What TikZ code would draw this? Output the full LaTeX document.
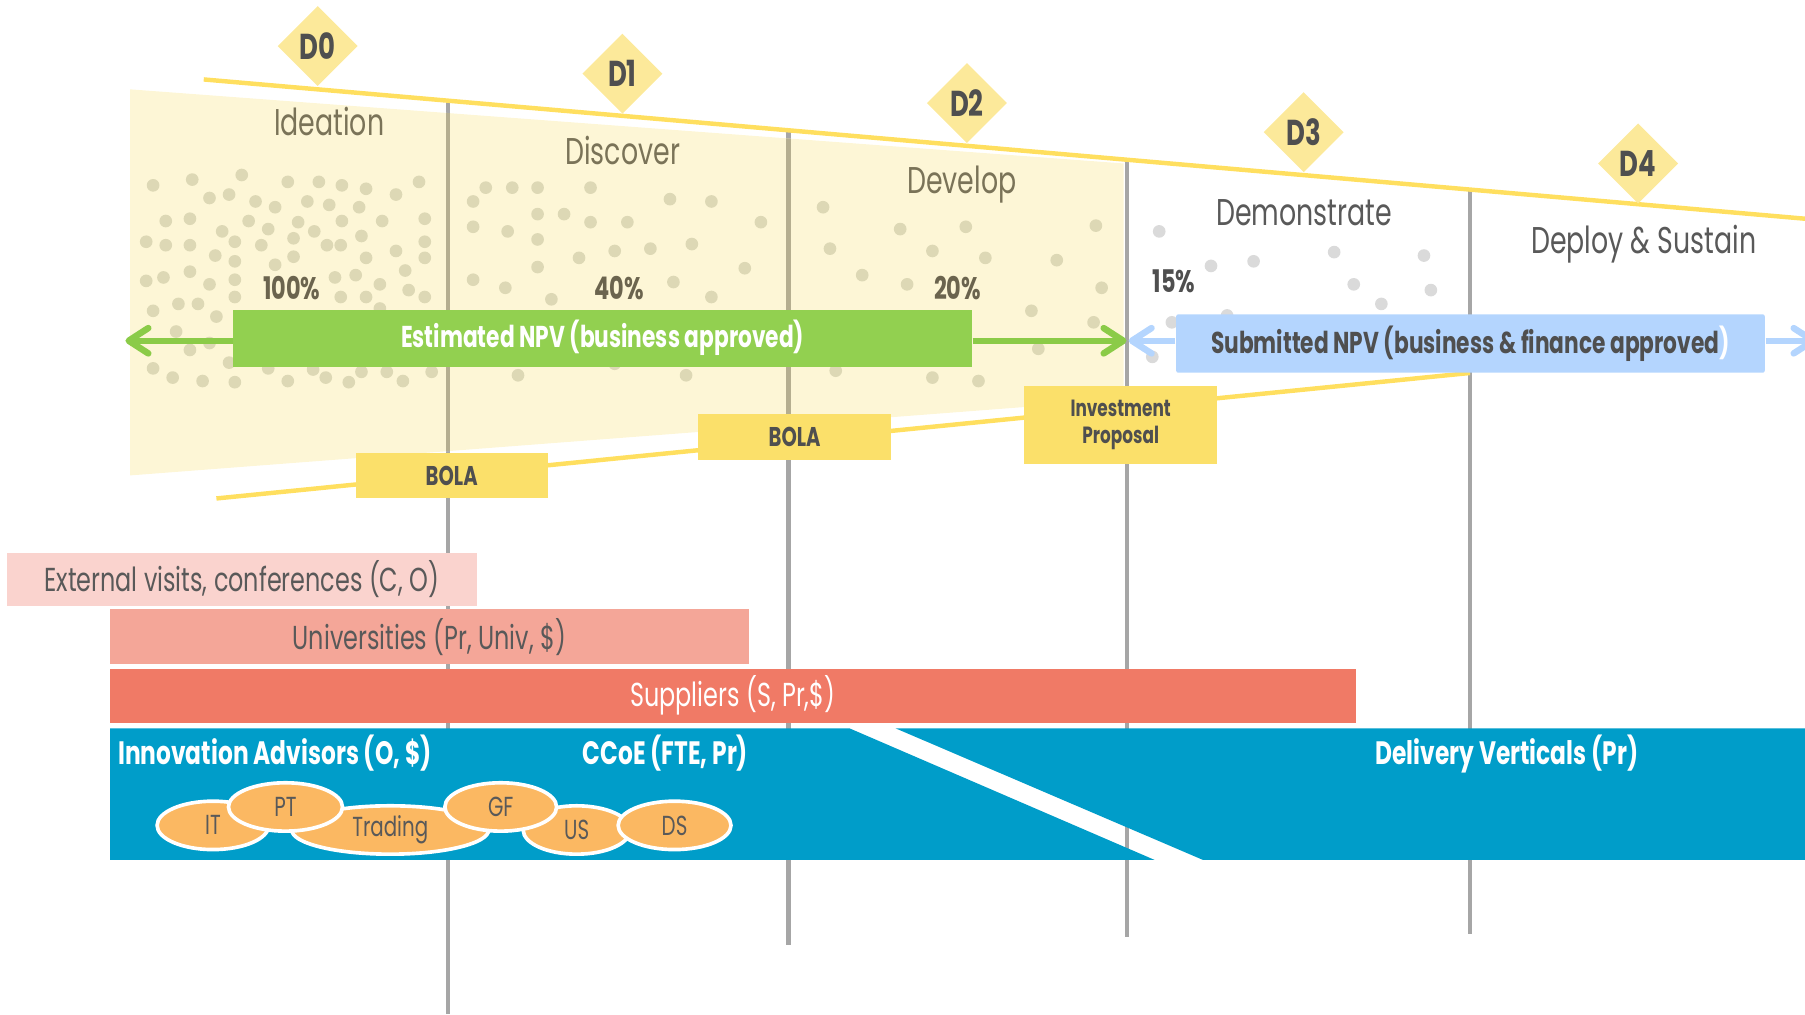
\documentclass[tikz,border=0pt]{standalone}
\usepackage{fontspec}
\setmainfont{Poppins}[FakeStretch=0.72]
\usepackage{tikz}
\usetikzlibrary{shapes.geometric,arrows.meta}
\definecolor{gateyel}{HTML}{FCE99A}
\definecolor{boxyel}{HTML}{FBE06A}
\definecolor{railyel}{HTML}{FFDF5F}
\definecolor{funnelyel}{HTML}{FDF6D6}
\definecolor{dotbeige}{HTML}{DDD8B5}
\definecolor{dotgrey}{HTML}{DADADA}
\definecolor{phasegrey}{HTML}{A6A6A6}
\definecolor{phasetan}{HTML}{B5AE90}
\definecolor{npvgreen}{HTML}{92D050}
\definecolor{arrgreen}{HTML}{8BCB48}
\definecolor{npvblue}{HTML}{B4D5FE}
\definecolor{extpink}{HTML}{FAD3CE}
\definecolor{univpink}{HTML}{F4A698}
\definecolor{suppred}{HTML}{F07A66}
\definecolor{bandblue}{HTML}{009DC9}
\definecolor{podorange}{HTML}{FBB862}
\definecolor{darktxt}{HTML}{4F4F4F}
\definecolor{greytxt}{HTML}{595959}
\definecolor{olivetxt}{HTML}{7A7358}
\definecolor{pcttxt}{HTML}{6B644E}
\newcommand{\sizept}[1]{\fontsize{#1}{#1}\selectfont}

\begin{document}
\begin{tikzpicture}[x=0.01cm, y=-0.01cm,
  gate/.style={diamond, fill=gateyel, inner sep=0pt, minimum width=0.7cm, minimum height=0.7cm, text=darktxt, font=\bfseries\sizept{8.9}},
  phase/.style={anchor=base, font=\sizept{9.2}},
  pct/.style={anchor=base, font=\bfseries\sizept{7.7}},
  npvbox/.style={inner sep=0pt, font=\bfseries\sizept{7.45}},
  gatebox/.style={fill=boxyel, text=darktxt, inner sep=0pt, minimum width=1.67cm, align=center, font=\bfseries\sizept{6.7}},
  bar/.style={inner sep=0pt, font=\sizept{8.2}},
  bandtxt/.style={anchor=base, inner sep=0pt, text=white, font=\bfseries\sizept{8.0}},
  pod/.style={ellipse, draw=white, line width=0.9pt, fill=podorange, text=greytxt, inner sep=0pt, minimum height=0.42cm, font=\sizept{6.8}},
  npvarrow/.style={line width=1.6pt, -{Straight Barb[length=1.7mm, width=2.2mm, line cap=round, line join=round]}}]
\useasboundingbox (0,0) rectangle (1568,881);

\foreach \x/\ya/\yb in {389/87/881, 685/113/821, 979/139/814, 1277/165/811}
  \draw[phasegrey, line width=1.1pt] (\x,\ya) -- (\x,\yb);
\fill[funnelyel] (113,77.6) -- (976,142) -- (976,347) -- (113,413) -- cycle;
\begin{scope}
  \clip (113,77.6) -- (976,142) -- (976,347) -- (113,413) -- cycle;
  \foreach \x in {389,685} \draw[phasetan, line width=1.1pt] (\x,0) -- (\x,500);
\end{scope}

\foreach \x/\y in {133/161, 167/156, 210/152, 250/158, 277/158, 297/161, 318/164, 364/158,
  182/172, 199/169, 222/175, 239/180, 267/175, 286/178, 312/180, 344/169,
  144/192, 165/190, 216/192, 233/199, 259/193, 297/192, 332/192, 369/190, 193/201, 273/201,
  127/210, 144/213, 165/213, 204/210, 227/213, 255/207, 284/213, 296/213, 314/205, 369/210,
  187/222, 204/227, 239/230, 255/223, 318/224, 344/218, 369/224,
  127/244, 142/241, 165/236, 182/247, 204/243, 291/241, 309/239, 330/247, 352/235,
  133/270, 155/264, 172/264, 204/258, 296/258, 318/258, 355/252, 369/258, 188/275, 330/268,
  153/288, 182/298, 165/304, 199/315, 133/320, 150/328, 176/331, 204/332, 233/320, 250/331,
  272/321, 283/328, 303/332, 314/323, 336/323, 350/331, 375/323,
  422/163, 445/163, 467/163, 513/163, 411/175, 467/186, 490/186, 513/193, 411/197, 441/201,
  467/208, 503/224, 467/232, 411/243, 439/250, 479/260, 450/326, 582/173, 618/175, 545/193,
  661/193, 534/218, 565/216, 601/212, 647/233, 585/245, 618/258, 596/326, 534/316,
  715/180, 782/199, 839/197, 952/196, 721/216, 810/218, 856/224, 918/226, 749/239, 788/247,
  957/250, 896/270, 950/280, 902/303, 726/322, 810/328, 850/331}
  \fill[dotbeige] (\x,\y) circle (0.55mm);
\foreach \x/\y in {1007/201, 1052/231, 1089/227, 1159/219, 1237/222, 1176/247, 1243/252,
  1200/264, 1018/280, 1066/274, 1001/310}
  \fill[dotgrey] (\x,\y) circle (0.55mm);

\draw[railyel, line width=1.1pt] (177,69) -- (1575,190.6);
\draw[railyel, line width=1.1pt] (188,433) -- (1277,324);

\node[gate] (d0) at (276,40) {D0};
\node[gate] (d1) at (540.7,64) {D1};
\node[gate] (d2) at (840,89.5) {D2};
\node[gate] (d3) at (1132.5,114.8) {D3};
\node[gate] (d4) at (1423,142) {D4};

\node[phase, text=olivetxt] (ideation) at (286,118) {Ideation};
\node[phase, text=olivetxt] (discover) at (541,142.7) {Discover};
\node[phase, text=olivetxt] (develop) at (835.6,168) {Develop};
\node[phase, text=greytxt] (demonstrate) at (1133,196) {Demonstrate};
\node[phase, text=greytxt] (deploy) at (1428,220) {Deploy \& Sustain};

\node[pct, text=pcttxt] (p100) at (253.5,260.6) {100\%};
\node[pct, text=pcttxt] (p40) at (537.7,260.6) {40\%};
\node[pct, text=pcttxt] (p20) at (831.8,260.6) {20\%};
\node[pct, text=darktxt] (p15) at (1020,254) {15\%};

\node[npvbox, fill=npvgreen, text=white, minimum width=6.41cm, minimum height=0.495cm] (estnpv) at (523.5,293.7) {Estimated NPV (business approved)};
\node[npvbox, fill=npvblue, text=darktxt, minimum width=5.11cm, minimum height=0.507cm, rounded corners=0.5pt] (subnpv) at (1277.4,298.4) {Submitted NPV (business \& finance approved\textcolor{white}{)}};
\coordinate (estl) at (109,296);
\coordinate (estr) at (978.6,296);
\coordinate (subl) at (980.5,296);
\coordinate (subr) at (1578,296);
\draw[npvarrow, arrgreen] (estnpv.west |- estl) -- (estl);
\draw[npvarrow, arrgreen] (estnpv.east |- estr) -- (estr);
\draw[npvarrow, npvblue] (subnpv.west |- subl) -- (subl);
\draw[npvarrow, npvblue] (subnpv.east |- subr) -- (subr);

\node[gatebox, minimum height=0.39cm] (bola1) at (392.4,413.3) {BOLA};
\node[gatebox, minimum height=0.40cm] (bola2) at (690.3,379.5) {BOLA};
\node[gatebox, minimum height=0.68cm, font=\bfseries\fontsize{5.8}{6.7}\selectfont] (invest) at (973.5,369) {Investment\\Proposal};

\node[bar, fill=extpink, text=greytxt, minimum width=4.08cm, minimum height=0.453cm] (extbar) at (210,503.4) {External visits, conferences (C, O)};
\node[bar, fill=univpink, text=greytxt, minimum width=5.546cm, minimum height=0.475cm] (univbar) at (373,553) {Universities (Pr, Univ, \$)};
\node[bar, fill=suppred, text=white, minimum width=10.818cm, minimum height=0.468cm] (suppbar) at (636.6,604.4) {Suppliers (S, Pr,\$)};

\fill[bandblue] (95.7,632.7) -- (738,632.7) -- (1003,747) -- (95.7,747) -- cycle;
\fill[bandblue] (778,632.7) -- (1568,632.7) -- (1568,747) -- (1045,747) -- cycle;
\node[bandtxt, anchor=base west] (advisors) at (102,664) {Innovation Advisors (O, \$)};
\node[bandtxt] (ccoe) at (578,664) {CCoE (FTE, Pr)};
\node[bandtxt] (verticals) at (1309,664) {Delivery Verticals (Pr)};

\node[pod, minimum width=0.97cm] (it) at (185,717) {IT};
\node[pod, minimum width=1.71cm] (trading) at (339,721) {Trading};
\node[pod, minimum width=0.99cm] (pt) at (248,701) {PT};
\node[pod, minimum width=0.93cm] (us) at (501,721) {US};
\node[pod, minimum width=0.97cm] (gf) at (435,701) {GF};
\node[pod, minimum width=0.98cm] (ds) at (586,717) {DS};
\end{tikzpicture}
\end{document}
